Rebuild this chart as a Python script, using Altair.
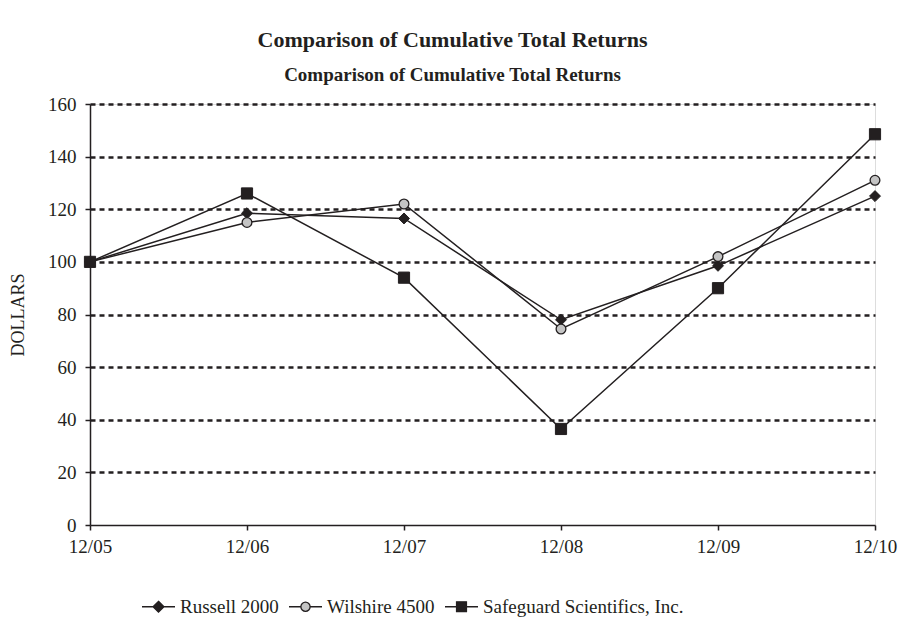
import altair as alt
import pandas as pd

dates = ["12/05", "12/06", "12/07", "12/08", "12/09", "12/10"]
series_names = ["Russell 2000", "Wilshire 4500", "Safeguard Scientifics, Inc."]
russell = [100, 118.5, 116.5, 78, 98.5, 125]
wilshire = [100, 115, 122, 74.5, 102, 131]
safeguard = [100, 126, 94, 36.5, 90, 148.5]
y_ticks = [0, 20, 40, 60, 80, 100, 120, 140, 160]

rows = []
for name, vals in zip(series_names, [russell, wilshire, safeguard]):
    for d, v in zip(dates, vals):
        rows.append({"date": d, "value": v, "series": name})
df = pd.DataFrame(rows)

FONT = "Liberation Serif"
INK = "#231f20"

# legend symbols: line with marker through it
legend_paths = [
    "M-1,0H1M0,-0.33L0.33,0L0,0.33L-0.33,0Z",
    "M-1,0H-0.28M0.28,0H1M-0.28,0A0.28,0.28,0,1,1,0.28,0A0.28,0.28,0,1,1,-0.28,0Z",
    "M-1,0H1M-0.3,-0.3H0.3V0.3H-0.3Z",
]
legend_fills = [INK, "#c4c4c4", INK]
legend_strokes = [INK, INK, INK]

x_enc = alt.X(
    "date:O",
    scale=alt.Scale(type="point", padding=0, domain=dates),
    sort=dates,
    axis=alt.Axis(
        title=None, labelAngle=0, labelPadding=7, tickSize=5, grid=False,
        labelFont=FONT, labelFontSize=19, labelColor=INK,
        domainColor=INK, domainWidth=1.5, tickColor=INK, tickWidth=1.5,
    ),
)
y_enc = alt.Y(
    "value:Q",
    scale=alt.Scale(domain=[0, 160], nice=False, zero=True),
    axis=alt.Axis(
        title="DOLLARS", values=y_ticks, tickSize=5, labelPadding=9,
        labelFont=FONT, labelFontSize=19, labelColor=INK,
        titleFont=FONT, titleFontSize=18, titleFontWeight="normal", titleColor=INK,
        titlePadding=20,
        grid=True, gridDash=[5, 4], gridWidth=2.5, gridColor=INK,
        gridOpacity=alt.condition("datum.value === 0", alt.value(0), alt.value(1)),
        domainColor=INK, domainWidth=1.5, tickColor=INK, tickWidth=1.5,
    ),
)

base = alt.Chart(df).encode(x=x_enc, y=y_enc)

lines = base.mark_line(color=INK, strokeWidth=1.5).encode(detail="series:N")

p_russell = base.transform_filter(alt.datum.series == series_names[0]).mark_point(
    shape="diamond", filled=True, fill=INK, stroke=INK, strokeWidth=1, size=120, opacity=1
)
p_wilshire = base.transform_filter(alt.datum.series == series_names[1]).mark_point(
    shape="circle", filled=True, fill="#c4c4c4", stroke=INK, strokeWidth=1.3, size=95, opacity=1
)
p_safeguard = base.transform_filter(alt.datum.series == series_names[2]).mark_point(
    shape="square", filled=True, fill=INK, stroke=INK, strokeWidth=1, size=125, opacity=1
)

leg = alt.Legend(
    title=None, orient="none", legendX=51, legendY=485, direction="horizontal",
    labelFont=FONT, labelFontSize=19, labelColor=INK, labelOffset=4, labelLimit=400,
    columnPadding=7, symbolSize=1089, symbolStrokeWidth=1.3, symbolOpacity=1,
)
legend_layer = base.mark_point(opacity=0, filled=True, strokeWidth=1.3).encode(
    shape=alt.Shape("series:N", scale=alt.Scale(domain=series_names, range=legend_paths), legend=leg),
    fill=alt.Fill("series:N", scale=alt.Scale(domain=series_names, range=legend_fills), legend=leg),
    stroke=alt.Stroke("series:N", scale=alt.Scale(domain=series_names, range=legend_strokes), legend=leg),
)

chart = alt.layer(lines, p_russell, p_wilshire, p_safeguard, legend_layer).properties(
    width=785,
    height=421,
    padding={"left": 82, "top": 96, "right": 23, "bottom": 95},
    autosize=alt.AutoSizeParams(type="none"),
    title=alt.TitleParams(
        text="Comparison of Cumulative Total Returns",
        subtitle="Comparison of Cumulative Total Returns",
        font=FONT, fontSize=22, fontWeight="bold", color=INK,
        subtitleFont=FONT, subtitleFontSize=19, subtitleFontWeight="bold", subtitleColor=INK,
        subtitlePadding=14, offset=9, dx=-30, anchor="middle",
    ),
).configure_view(stroke=None).configure(background="white")

chart.save("out.html", embed_options={"renderer": "svg", "actions": False})
